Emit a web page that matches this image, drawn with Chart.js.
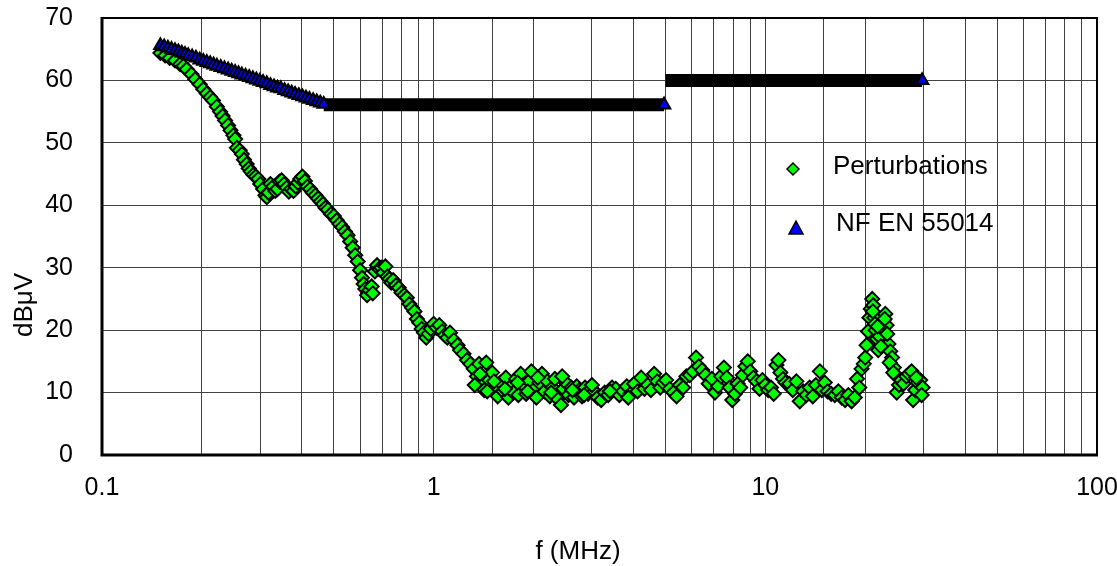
<!DOCTYPE html>
<html>
<head>
<meta charset="utf-8">
<title>Perturbations vs NF EN 55014</title>
<script src="https://cdn.jsdelivr.net/npm/chart.js@4/dist/chart.umd.min.js"></script>
<style>
  html, body { margin: 0; padding: 0; background: #fff; }
  #wrap { width: 1117px; height: 566px; }
</style>
</head>
<body>
<div id="wrap"><canvas id="emc" width="1117" height="566"></canvas></div>
<script>
const pertFreq = [
  0.150, 0.155, 0.160, 0.166, 0.172, 0.176, 0.180, 0.186, 0.191, 0.197,
  0.202, 0.207, 0.212, 0.216, 0.222, 0.227, 0.231, 0.235, 0.240, 0.244,
  0.249, 0.252, 0.255, 0.260, 0.264, 0.268, 0.273, 0.277, 0.281, 0.286,
  0.291, 0.296, 0.300, 0.306, 0.311, 0.314, 0.318, 0.322, 0.328, 0.333,
  0.338, 0.343, 0.348, 0.354, 0.360, 0.366, 0.372, 0.378, 0.384, 0.390,
  0.396, 0.402, 0.409, 0.416, 0.424, 0.432, 0.440, 0.448, 0.456, 0.464,
  0.472, 0.480, 0.490, 0.500, 0.510, 0.520, 0.530, 0.540, 0.550, 0.560,
  0.570, 0.580, 0.590, 0.600, 0.608, 0.615, 0.622, 0.630, 0.640, 0.650,
  0.655, 0.665, 0.675, 0.685, 0.695, 0.705, 0.715, 0.725, 0.735, 0.745,
  0.755, 0.770, 0.785, 0.800, 0.815, 0.830, 0.845, 0.860, 0.875, 0.890,
  0.905, 0.920, 0.935, 0.950, 0.965, 0.980, 1.00, 1.02, 1.04, 1.06,
  1.08, 1.10, 1.12, 1.15, 1.18, 1.20, 1.23, 1.26, 1.29, 1.32,
  1.35, 1.37, 1.40, 1.42, 1.44, 1.47, 1.50, 1.53, 1.56, 1.59,
  1.62, 1.65, 1.68, 1.71, 1.74, 1.77, 1.80, 1.83, 1.86, 1.90,
  1.94, 1.97, 2.00, 2.04, 2.08, 2.12, 2.16, 2.20, 2.24, 2.28,
  2.32, 2.36, 2.42, 2.46, 2.50, 2.55, 2.60, 2.65, 2.70, 2.75,
  2.80, 2.86, 2.92, 2.98, 3.05, 3.12, 3.20, 3.28, 3.36, 3.45,
  3.54, 3.63, 3.72, 3.82, 3.92, 4.02, 4.12, 4.22, 4.32, 4.42,
  4.52, 4.62, 4.72, 4.82, 4.92, 5.02, 5.15, 5.28, 5.40, 5.52,
  5.65, 5.78, 5.92, 6.05, 6.18, 6.30, 6.45, 6.60, 6.75, 6.90,
  7.05, 7.20, 7.35, 7.50, 7.65, 7.80, 7.95, 8.10, 8.25, 8.40,
  8.55, 8.70, 8.85, 9.00, 9.20, 9.40, 9.60, 9.80, 10.0, 10.2,
  10.4, 10.6, 10.8, 10.95, 11.1, 11.3, 11.5, 11.8, 12.1, 12.4,
  12.7, 13.0, 13.3, 13.6, 13.9, 14.2, 14.6, 14.8, 15.1, 15.4,
  15.8, 16.2, 16.6, 17.0, 17.4, 17.8, 18.2, 18.6, 18.9, 19.2,
  19.5, 19.8, 20.0, 20.2, 20.4, 20.6, 20.8, 21.0, 21.15, 21.3,
  21.5, 21.7, 21.9, 22.1, 22.4, 22.7, 23.0, 23.2, 23.5, 23.8,
  24.1, 24.4, 24.7, 24.9, 25.3, 25.7, 26.1, 26.6, 27.1, 27.6,
  27.9, 28.3, 28.8, 29.3, 29.8,
  // extra points in the crowded parts of the sweep
  1.33, 1.38, 1.45, 1.52, 1.64, 1.79, 1.92, 2.06, 2.26, 2.44,
  2.62, 2.84, 3.00, 3.40, 3.86, 21.1, 21.4, 21.8, 22.3, 22.9,
  23.3, 23.7, 24.3, 28.5, 29.6
];
const pertLevel = [
  64.4, 64.0, 63.6, 63.2, 62.6, 62.3, 61.8, 61.0, 60.2, 59.4,
  58.6, 57.9, 57.3, 56.8, 55.8, 55.0, 54.3, 53.6, 52.8, 52.0,
  51.2, 50.6, 49.2, 48.8, 48.2, 47.3, 46.6, 45.9, 45.4, 44.9,
  44.6, 44.2, 43.4, 42.6, 41.6, 41.3, 42.0, 43.4, 43.0, 42.3,
  42.6, 43.8, 44.0, 43.4, 42.8, 42.2, 42.6, 42.3, 43.0, 43.6,
  44.2, 44.6, 43.9, 43.0, 42.6, 42.0, 41.6, 41.1, 40.6, 40.2,
  39.6, 39.3, 38.6, 38.3, 37.6, 37.0, 36.5, 35.8, 35.2, 34.2,
  33.2, 32.0, 31.0, 29.6, 28.4, 27.4, 26.6, 25.6, 26.4, 27.0,
  25.9, 29.4, 30.4, 29.8, 30.0, 29.2, 30.2, 28.6, 28.2, 27.6,
  28.0, 27.2, 26.8, 26.0, 25.6, 25.2, 24.2, 23.6, 23.0, 21.8,
  21.2, 20.2, 19.6, 18.8, 19.4, 20.2, 21.0, 20.4, 20.8, 19.8,
  19.2, 18.8, 19.6, 18.4, 17.6, 16.8, 16.2, 15.2, 14.6, 13.8,
  12.6, 14.6, 11.4, 10.4, 14.8, 12.0, 13.2, 10.8, 9.4, 11.6,
  10.2, 12.4, 9.2, 11.0, 10.0, 12.2, 9.6, 13.0, 11.2, 9.8,
  11.8, 13.4, 10.4, 9.2, 11.6, 13.0, 10.2, 11.8, 9.4, 10.8,
  12.2, 9.0, 8.0, 10.6, 11.6, 9.6, 10.8, 9.2, 11.0, 10.4,
  9.4, 10.8, 9.8, 10.6, 10.2, 9.2, 8.8, 10.0, 9.6, 10.8,
  10.6, 9.6, 10.2, 11.0, 9.8, 11.4, 10.2, 12.4, 10.6, 11.2,
  10.4, 13.0, 11.8, 10.8, 11.6, 12.0, 10.6, 10.0, 9.4, 11.2,
  10.8, 12.6, 12.8, 13.4, 15.6, 14.2, 13.6, 12.8, 11.4, 12.2,
  10.0, 11.0, 12.6, 14.0, 12.4, 10.8, 8.8, 9.8, 11.4, 10.8,
  12.8, 14.2, 15.0, 13.4, 12.4, 11.8, 10.6, 12.0, 11.2, 10.4,
  10.8, 9.8, 14.4, 15.2, 13.2, 12.2, 11.6, 11.4, 10.4, 11.8,
  8.6, 10.2, 9.6, 10.8, 9.4, 11.2, 13.4, 10.4, 11.6, 10.2,
  9.8, 9.6, 10.2, 9.2, 8.8, 9.6, 8.6, 9.2, 12.2, 10.8,
  13.8, 14.6, 15.6, 17.6, 19.8, 22.0, 23.4, 25.0, 24.0, 22.0,
  20.0, 18.6, 16.8, 19.0, 20.4, 21.6, 22.6, 20.8, 17.8, 16.6,
  15.6, 14.0, 12.8, 10.0, 11.2, 12.0, 11.4, 12.6, 13.0, 13.4,
  8.8, 10.4, 11.6, 12.0, 10.8,
  11.2, 13.0, 10.2, 11.8, 10.6, 11.6, 10.2, 12.4, 10.0, 12.6,
  10.4, 9.6, 11.2, 10.2, 9.2, 23.0, 21.0, 20.6, 17.4, 21.8,
  19.4, 14.8, 13.2, 12.4, 9.6
];

// NF EN 55014 limit markers (sloped part + last point of each flat part)
const limitFreq = [
  0.150, 0.154, 0.158, 0.162, 0.166, 0.170, 0.174, 0.178, 0.182, 0.187,
  0.192, 0.197, 0.202, 0.207, 0.212, 0.217, 0.222, 0.228, 0.234, 0.240,
  0.246, 0.252, 0.258, 0.264, 0.271, 0.278, 0.285, 0.292, 0.299, 0.306,
  0.314, 0.322, 0.330, 0.338, 0.346, 0.355, 0.364, 0.373, 0.382, 0.392,
  0.402, 0.412, 0.422, 0.433, 0.444, 0.455, 0.466, 4.95, 29.7
];
const limitLevel = [
  65.6, 65.4, 65.2, 65.0, 64.8, 64.6, 64.4, 64.2, 64.0, 63.8,
  63.6, 63.3, 63.1, 62.9, 62.7, 62.5, 62.3, 62.1, 61.9, 61.7,
  61.5, 61.3, 61.1, 60.9, 60.7, 60.5, 60.3, 60.1, 59.9, 59.7,
  59.5, 59.2, 59.0, 58.8, 58.7, 58.4, 58.2, 58.0, 57.8, 57.6,
  57.4, 57.2, 57.0, 56.8, 56.6, 56.4, 56.2, 56.1, 60.0
];
// flat parts of the limit: dense sweep that shows as a solid black band
const bandFreq = [0.466, 4.95, 4.97, 5.0, 29.7];
const bandLevel = [56.1, 56.1, null, 60.0, 60.0];

const yTickValues = [0, 10, 20, 30, 40, 50, 60, 70];
const xTickLabels = ['0.1', '1', '10', '100'];

const FONT = "'Liberation Sans', Arial, sans-serif";

function pairs(xs, ys) {
    return xs.map((x, i) => ({ x: x, y: ys[i] }));
}

// frame: heavy left/bottom axes, lighter top/right
const framePlugin = {
    id: 'frame',
    afterDraw(chart) {
        const { ctx, chartArea: a } = chart;
        ctx.save();
        ctx.strokeStyle = '#000';
        ctx.lineWidth = 2;
        ctx.beginPath();
        ctx.moveTo(a.left, a.top);
        ctx.lineTo(a.right, a.top);
        ctx.lineTo(a.right, a.bottom);
        ctx.stroke();
        ctx.lineWidth = 3;
        ctx.beginPath();
        ctx.moveTo(a.left, a.top - 1);
        ctx.lineTo(a.left, a.bottom);
        ctx.lineTo(a.right + 1, a.bottom);
        ctx.stroke();
        ctx.restore();
    }
};

// legend sits inside the plot, and axis titles are placed like the original
const annotPlugin = {
    id: 'annot',
    afterDraw(chart) {
        const ctx = chart.ctx;
        ctx.save();
        ctx.fillStyle = '#000';
        ctx.font = '26px ' + FONT;
        ctx.textBaseline = 'middle';
        ctx.textAlign = 'center';
        ctx.fillText('f (MHz)', 578, 552);
        ctx.save();
        ctx.translate(25, 305);
        ctx.rotate(-Math.PI / 2);
        ctx.fillText('dBμV', 0, 0);
        ctx.restore();

        // legend markers
        ctx.lineWidth = 1.5;
        ctx.strokeStyle = '#000';
        ctx.fillStyle = '#00ff00';
        ctx.beginPath();
        ctx.moveTo(793 - 6, 169);
        ctx.lineTo(793, 169 - 6);
        ctx.lineTo(793 + 6, 169);
        ctx.lineTo(793, 169 + 6);
        ctx.closePath();
        ctx.fill();
        ctx.stroke();

        ctx.fillStyle = '#0000ff';
        ctx.beginPath();
        ctx.moveTo(796, 221);
        ctx.lineTo(803, 234);
        ctx.lineTo(789, 234);
        ctx.closePath();
        ctx.fill();
        ctx.stroke();

        ctx.fillStyle = '#000';
        ctx.textAlign = 'left';
        ctx.fillText('Perturbations', 833, 167);
        ctx.fillText('NF EN 55014', 836, 224);
        ctx.restore();
    }
};

document.addEventListener('DOMContentLoaded', () => {
    new Chart(document.getElementById('emc'), {
        type: 'scatter',
        data: {
            datasets: [
                {
                    label: 'NF EN 55014',
                    data: pairs(limitFreq, limitLevel),
                    pointStyle: 'triangle',
                    pointRadius: 7,
                    pointBackgroundColor: '#0000ff',
                    pointBorderColor: '#000',
                    pointBorderWidth: 2.2,
                    showLine: false,
                    order: 0
                },
                {
                    label: 'limit band',
                    data: pairs(bandFreq, bandLevel),
                    showLine: true,
                    spanGaps: false,
                    borderColor: '#000',
                    borderWidth: 13,
                    borderCapStyle: 'butt',
                    pointRadius: 0,
                    order: 1
                },
                {
                    label: 'Perturbations',
                    data: pairs(pertFreq, pertLevel),
                    pointStyle: 'rectRot',
                    pointRadius: 7,
                    pointBackgroundColor: '#00ff00',
                    pointBorderColor: '#000',
                    pointBorderWidth: 2,
                    showLine: false,
                    order: 2
                }
            ]
        },
        options: {
            responsive: false,
            animation: false,
            layout: { autoPadding: false, padding: { top: 18, right: 20, left: 0, bottom: 0 } },
            plugins: {
                legend: { display: false },
                tooltip: { enabled: false }
            },
            scales: {
                x: {
                    type: 'logarithmic',
                    min: 0.1,
                    max: 100,
                    afterFit: s => {
                        s.height = 111;
                        s.paddingLeft = 0;
                        s.paddingRight = 0;
                    },
                    grid: { color: '#404040', lineWidth: 1, drawTicks: false },
                    border: { display: false },
                    ticks: {
                        autoSkip: false,
                        maxRotation: 0,
                        padding: 18,
                        color: '#000',
                        font: { family: FONT, size: 25 },
                        callback: v => {
                            const e = Math.log10(v);
                            if (Math.abs(e - Math.round(e)) > 1e-6) return '';
                            return xTickLabels[Math.round(e) + 1];
                        }
                    }
                },
                y: {
                    min: yTickValues[0],
                    max: yTickValues[yTickValues.length - 1],
                    afterFit: s => {
                        s.width = 102;
                        s.paddingTop = 0;
                        s.paddingBottom = 0;
                    },
                    afterBuildTicks: s => { s.ticks = yTickValues.map(v => ({ value: v })); },
                    grid: { color: '#404040', lineWidth: 1, drawTicks: false },
                    border: { display: false },
                    ticks: {
                        padding: 29,
                        color: '#000',
                        font: { family: FONT, size: 25 },
                        callback: v => String(v)
                    }
                }
            }
        },
        plugins: [framePlugin, annotPlugin]
    });
});
</script>
</body>
</html>
